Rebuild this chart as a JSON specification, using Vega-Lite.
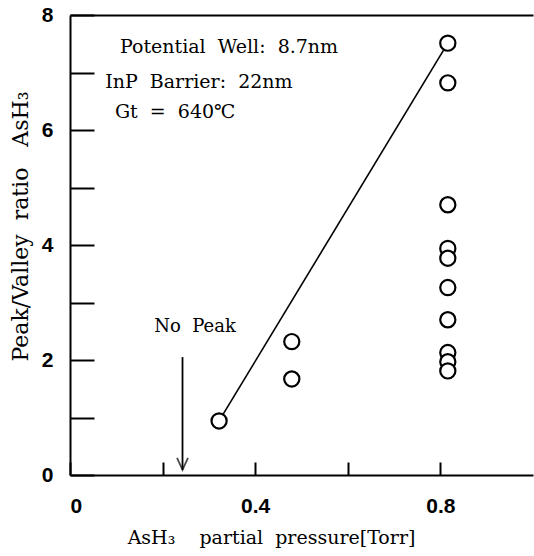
{
  "$schema": "https://vega.github.io/schema/vega-lite/v6.json",
  "width": 463,
  "height": 460,
  "autosize": {"type": "none"},
  "padding": {"left": 70, "top": 15, "right": 1, "bottom": 81},
  "background": "white",
  "config": {"view": {"stroke": null}},
  "datasets": {
    "points": [
      {"p": 0.322, "r": 0.94},
      {"p": 0.479, "r": 2.32},
      {"p": 0.479, "r": 1.67},
      {"p": 0.816, "r": 7.51},
      {"p": 0.816, "r": 6.82},
      {"p": 0.816, "r": 4.70},
      {"p": 0.816, "r": 3.94},
      {"p": 0.816, "r": 3.77},
      {"p": 0.816, "r": 3.26},
      {"p": 0.816, "r": 2.70},
      {"p": 0.816, "r": 2.13},
      {"p": 0.816, "r": 1.97},
      {"p": 0.816, "r": 1.81}
    ],
    "fit": [
      {"p": 0.322, "r": 0.94},
      {"p": 0.816, "r": 7.51}
    ],
    "arrow": [
      {"p": 0.243, "r": 2.05, "r2": 0.09}
    ],
    "notes": [
      {"p": 0.108, "r": 7.44, "t": "Potential\u00a0 Well:\u00a0 8.7nm"},
      {"p": 0.076, "r": 6.84, "t": "InP\u00a0 Barrier:\u00a0 22nm"},
      {"p": 0.097, "r": 6.32, "t": "Gt\u00a0 =\u00a0 640℃"}
    ],
    "nopeak": [
      {"p": 0.27, "r": 2.57, "t": "No\u00a0 Peak"}
    ]
  },
  "layer": [
    {
      "data": {"name": "points"},
      "mark": {"type": "point", "opacity": 0},
      "encoding": {
        "x": {
          "field": "p", "type": "quantitative",
          "scale": {"domain": [0, 1], "nice": false, "zero": false},
          "axis": {
            "orient": "bottom",
            "values": [0, 0.2, 0.4, 0.6, 0.8],
            "labelExpr": "datum.value == 0 ? '0' : (abs(datum.value - 0.4) < 0.001 ? '0.4' : (abs(datum.value - 0.8) < 0.001 ? '0.8' : ''))",
            "labelFont": "Liberation Sans",
            "labelFontWeight": "bold",
            "labelFontSize": 21,
            "labelColor": "black",
            "labelPadding": 33,
            "labelOverlap": false,
            "tickSize": -13,
            "tickWidth": 2,
            "tickColor": "black",
            "domainColor": "black",
            "domainWidth": 2,
            "grid": false,
            "title": "AsH₃\u00a0\u00a0\u00a0 partial\u00a0 pressure[Torr]",
            "titleFont": "DejaVu Serif",
            "titleFontWeight": "normal",
            "titleFontSize": 19,
            "titleColor": "black",
            "titleAnchor": "middle",
            "titleX": 201,
            "titleY": 62,
            "titleBaseline": "middle"
          }
        },
        "y": {
          "field": "r", "type": "quantitative",
          "scale": {"domain": [0, 8], "nice": false},
          "axis": {
            "values": [0, 1, 2, 3, 4, 5, 6, 7, 8],
            "labelExpr": "datum.value % 2 == 0 ? datum.label : ''",
            "labelFont": "Liberation Sans",
            "labelFontWeight": "bold",
            "labelFontSize": 21,
            "labelColor": "black",
            "labelPadding": 41,
            "labelOverlap": false,
            "tickSize": -24,
            "tickWidth": 2,
            "tickColor": "black",
            "domainColor": "black",
            "domainWidth": 2,
            "grid": false,
            "title": "Peak/Valley\u00a0 ratio\u00a0\u00a0 AsH₃",
            "titleFont": "DejaVu Serif",
            "titleFontWeight": "normal",
            "titleFontSize": 22,
            "titleColor": "black",
            "titleAngle": -90,
            "titleX": -50,
            "titleY": 211,
            "titleAlign": "center",
            "titleBaseline": "middle"
          }
        }
      }
    },
    {
      "data": {"name": "fit"},
      "mark": {"type": "line", "color": "black", "strokeWidth": 1.6},
      "encoding": {
        "x": {"field": "p", "type": "quantitative",
          "axis": {"orient": "top", "ticks": false, "labels": false, "title": null, "grid": false, "domainColor": "black", "domainWidth": 2}},
        "y": {"field": "r", "type": "quantitative", "axis": null}
      }
    },
    {
      "data": {"name": "arrow"},
      "mark": {"type": "rule", "color": "black", "strokeWidth": 1.8},
      "encoding": {
        "x": {"field": "p", "type": "quantitative", "axis": null},
        "y": {"field": "r", "type": "quantitative", "axis": null},
        "y2": {"field": "r2"}
      }
    },
    {
      "data": {"name": "arrow"},
      "mark": {"type": "point", "shape": "M-1,-2.2L0,0L1,-2.2", "filled": false, "stroke": "black", "strokeWidth": 1.8, "size": 120},
      "encoding": {
        "x": {"field": "p", "type": "quantitative", "axis": null},
        "y": {"field": "r2", "type": "quantitative", "axis": null}
      }
    },
    {
      "data": {"name": "points"},
      "mark": {"type": "point", "shape": "circle", "filled": true, "fill": "white", "stroke": "black", "strokeWidth": 2.2, "size": 230, "opacity": 1, "fillOpacity": 1},
      "encoding": {
        "x": {"field": "p", "type": "quantitative", "axis": null},
        "y": {"field": "r", "type": "quantitative", "axis": null}
      }
    },
    {
      "data": {"name": "notes"},
      "mark": {"type": "text", "align": "left", "baseline": "middle", "font": "DejaVu Serif", "fontSize": 19, "color": "black"},
      "encoding": {
        "x": {"field": "p", "type": "quantitative", "axis": null},
        "y": {"field": "r", "type": "quantitative", "axis": null},
        "text": {"field": "t"}
      }
    },
    {
      "data": {"name": "nopeak"},
      "mark": {"type": "text", "align": "center", "baseline": "middle", "font": "DejaVu Serif", "fontSize": 18, "color": "black"},
      "encoding": {
        "x": {"field": "p", "type": "quantitative", "axis": null},
        "y": {"field": "r", "type": "quantitative", "axis": null},
        "text": {"field": "t"}
      }
    }
  ],
  "resolve": {"axis": {"x": "independent", "y": "independent"}}
}
